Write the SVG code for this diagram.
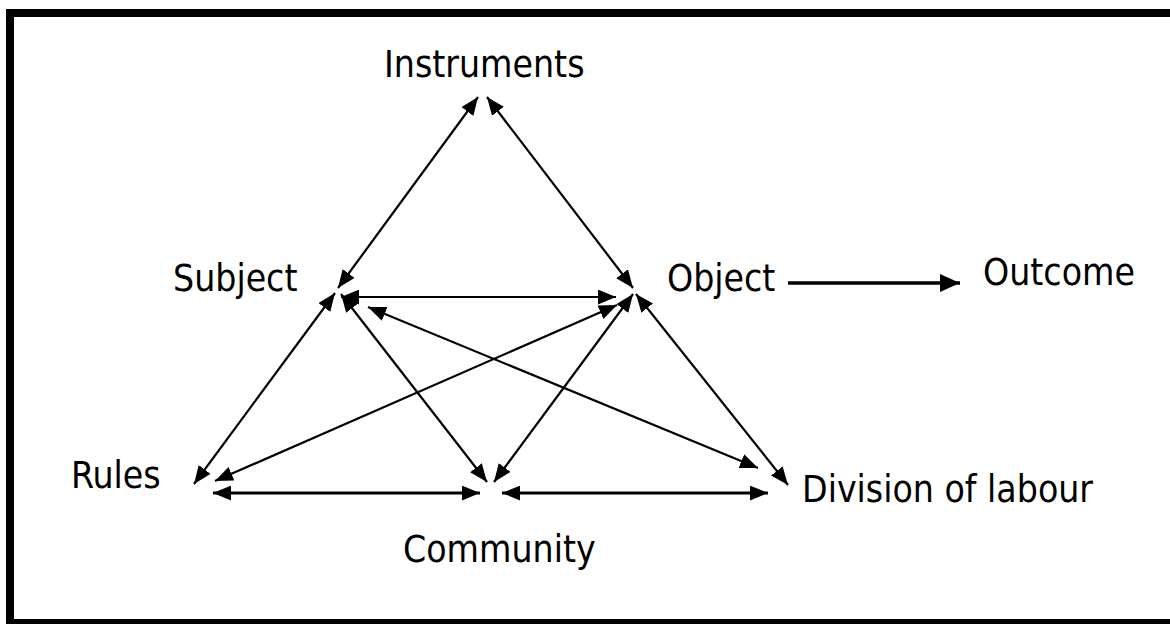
<svg xmlns="http://www.w3.org/2000/svg" width="1170" height="624" viewBox="0 0 1170 624">
<style>
.lbl{font-family:"DejaVu Sans",sans-serif;font-stretch:condensed;font-size:37px;fill:#000}
.c{stroke:#000;stroke-width:2.2;fill:none;marker-end:url(#ah);marker-start:url(#ah)}
.h{stroke-width:3}
.s{stroke:#000;stroke-width:3.5;fill:none;marker-end:url(#ah2)}
</style>
<defs>
<marker id="ah" markerUnits="userSpaceOnUse" markerWidth="18" markerHeight="15" refX="17" refY="7" orient="auto-start-reverse" viewBox="0 0 17 14">
<path d="M0,0 L17,7 L0,14 z" fill="#000"/>
</marker>
<marker id="ah2" markerUnits="userSpaceOnUse" markerWidth="20" markerHeight="18" refX="19" refY="8.5" orient="auto" viewBox="0 0 19 17">
<path d="M0,0 L19,8.5 L0,17 z" fill="#000"/>
</marker>
</defs>
<rect x="0" y="0" width="1170" height="624" fill="#fff"/>
<rect x="10" y="13" width="1180" height="610" fill="none" stroke="#000" stroke-width="8"/>
<g id="connectors">
<line class="c" x1="338" y1="288" x2="478" y2="97"/>
<line class="c" x1="487" y1="97" x2="633" y2="288"/>
<line class="c" x1="341" y1="297" x2="616" y2="297"/>
<line class="c" x1="335" y1="293" x2="194" y2="484"/>
<line class="c" x1="617" y1="305" x2="215" y2="481"/>
<line class="c" x1="341" y1="294" x2="487" y2="482"/>
<line class="c" x1="633" y1="294" x2="494" y2="482"/>
<line class="c" x1="368" y1="307" x2="758" y2="468"/>
<line class="c" x1="636" y1="294" x2="788" y2="485"/>
<line class="c h" x1="213" y1="493" x2="480" y2="493"/>
<line class="c h" x1="502" y1="493" x2="768" y2="493"/>
<line class="s" x1="788" y1="283" x2="960" y2="283"/>
</g>
<g id="instruments"><text class="lbl" x="384" y="77">Instruments</text></g>
<g id="subject"><text class="lbl" x="173" y="291">Subject</text></g>
<g id="object"><text class="lbl" x="667" y="291">Object</text></g>
<g id="outcome"><text class="lbl" x="983" y="285">Outcome</text></g>
<g id="rules"><text class="lbl" x="71" y="488">Rules</text></g>
<g id="community"><text class="lbl" x="403" y="562">Community</text></g>
<g id="division"><text class="lbl" x="802" y="502">Division of labour</text></g>
</svg>
